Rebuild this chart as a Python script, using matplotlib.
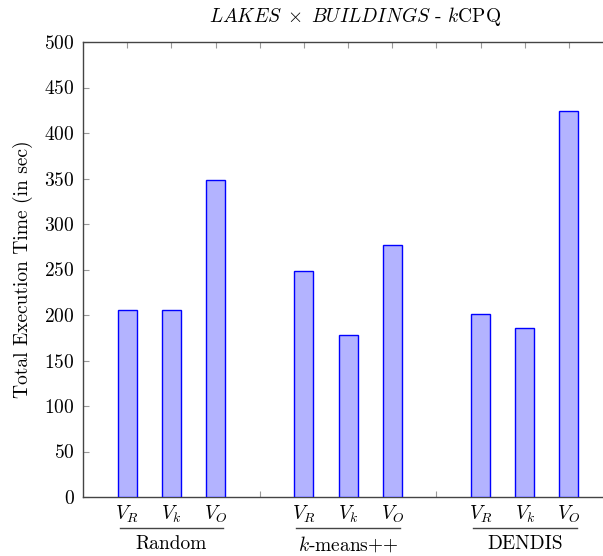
import matplotlib
matplotlib.use('Agg')
import matplotlib.pyplot as plt
from matplotlib.lines import Line2D
import numpy as np

plt.rcParams['font.family'] = 'serif'
plt.rcParams['font.serif'] = ['cmr10', 'DejaVu Serif']
plt.rcParams['mathtext.fontset'] = 'cm'
plt.rcParams['axes.formatter.use_mathtext'] = True

# data
groups = ['Random', '$k$-means++', 'DENDIS']
variants = ['$V_R$', '$V_k$', '$V_O$']
times = [
    [205, 205, 348],   # Random
    [248, 178, 277],   # k-means++
    [201, 186, 424],   # DENDIS
]

FILL = '#b3b3ff'
EDGE = '#0000ff'
FS = 14

fig = plt.figure(figsize=(6.03, 5.56), dpi=100)
ax = fig.add_axes([83 / 603, 59 / 556, 519 / 603, 455 / 556])

for g, vals in enumerate(times):
    xs = np.arange(len(vals)) + 1 + 4 * g
    ax.bar(xs, vals, width=0.43, color=FILL, edgecolor=EDGE, linewidth=1.0, zorder=3)

ax.set_xlim(0, 11.75)
ax.set_ylim(0, 500)
ax.set_yticks(np.arange(0, 501, 50))
ax.set_xticks(np.arange(1, 12))
ax.set_xticklabels([])
ax.tick_params(axis='x', direction='in', top=True, bottom=True, length=4,
               color='#999999', width=0.8)
ax.tick_params(axis='y', direction='in', left=True, right=False, length=4,
               color='#999999', width=0.8, labelsize=FS, pad=6)
for s in ax.spines.values():
    s.set_color('#444444')
    s.set_linewidth(1.0)
ax.spines['right'].set_visible(False)

trans = ax.get_xaxis_transform()
for g, name in enumerate(groups):
    centre = 2 + 4 * g
    for i, v in enumerate(variants):
        ax.text(centre - 1 + i, -0.038, v, transform=trans, ha='center', va='center',
                fontsize=FS)
    ax.add_line(Line2D([centre - 1.17, centre + 1.18], [-0.068, -0.068], transform=trans,
                       color='#444444', linewidth=1.0, clip_on=False))
    ax.text(centre, -0.104, name, transform=trans, ha='center', va='center', fontsize=FS)

ax.set_ylabel('Total Execution Time (in sec)', fontsize=FS, labelpad=8)
# the original axis box runs past the right edge, so the title sits right of centre
fig.text(355 / 603, 1 - 17 / 556,
         r'$\mathit{LAKES}\;\times\;\mathit{BUILDINGS}$ - $k$CPQ',
         fontsize=FS, ha='center', va='center')

fig.savefig('out.png', dpi=100)
